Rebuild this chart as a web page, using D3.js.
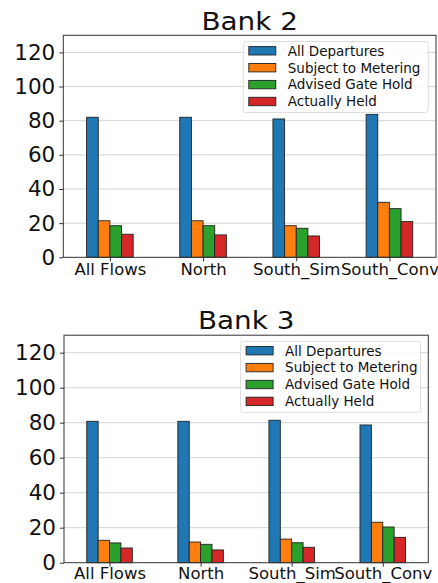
<!DOCTYPE html>
<html>
<head>
<meta charset="utf-8">
<script src="https://cdn.jsdelivr.net/npm/d3@7"></script>
<style>
  html, body { margin: 0; padding: 0; background: #fff; }
  svg { display: block; font-family: "DejaVu Sans", sans-serif; }
</style>
</head>
<body>
<svg id="chart" width="438" height="583"></svg>
<script>
const categories = ["All Flows", "North", "South_Sim", "South_Conv"];
const seriesNames = ["All Departures", "Subject to Metering", "Advised Gate Hold", "Actually Held"];
const seriesColors = ["#1f77b4", "#ff7f0e", "#2ca02c", "#d62728"];

const bank2AllDepartures     = [82.0, 82.0, 81.0, 83.7];
const bank2SubjectToMetering = [21.4, 21.4, 18.5, 32.2];
const bank2AdvisedGateHold   = [18.5, 18.5, 17.0, 28.5];
const bank2ActuallyHeld      = [13.5, 13.1, 12.5, 20.9];

const bank3AllDepartures     = [80.8, 80.8, 81.4, 78.7];
const bank3SubjectToMetering = [12.8, 11.8, 13.5, 23.1];
const bank3AdvisedGateHold   = [11.3, 10.5, 11.4, 20.4];
const bank3ActuallyHeld      = [8.4, 7.3, 8.8, 14.5];

const yTicks = [0, 20, 40, 60, 80, 100, 120];
const yMax = 130;

const svg = d3.select("#chart");

function drawChart(cfg) {
  const { title, series, left, right, top, bottom, titleY } = cfg;
  const g = svg.append("g");
  const x = d3.scaleLinear().domain([-0.5, categories.length - 0.5]).range([left, right]);
  const y = d3.scaleLinear().domain([0, yMax]).range([bottom, top]);
  const barW = 0.125;

  // grid
  g.append("g").selectAll("line").data(yTicks.filter(t => t > 0)).join("line")
    .attr("x1", left).attr("x2", right)
    .attr("y1", d => y(d)).attr("y2", d => y(d))
    .attr("stroke", "#d4d4d4").attr("stroke-width", 1);

  // bars
  series.forEach((vals, si) => {
    g.append("g").selectAll("rect").data(vals).join("rect")
      .attr("x", (d, i) => x(i + (si - 2) * barW))
      .attr("width", x(barW) - x(0))
      .attr("y", d => y(d))
      .attr("height", d => y(0) - y(d))
      .attr("fill", seriesColors[si])
      .attr("stroke", "#222").attr("stroke-width", 0.9);
  });

  // axes
  const yAxis = d3.axisLeft(y).tickValues(yTicks).tickSize(4).tickPadding(4);
  const ya = g.append("g").attr("transform", `translate(${left},0)`).call(yAxis);
  ya.select(".domain").remove();
  ya.selectAll("line").attr("stroke", "#333");
  ya.selectAll("text").attr("font-size", 21.5).attr("fill", "#111")
    .attr("font-family", "DejaVu Sans");

  const xAxis = d3.axisBottom(x).tickValues(d3.range(categories.length))
    .tickFormat(i => categories[i]).tickSize(4).tickPadding(cfg.xPad);
  const xa = g.append("g").attr("transform", `translate(0,${bottom})`).call(xAxis);
  xa.select(".domain").remove();
  xa.selectAll("line").attr("stroke", "#333");
  xa.selectAll("text").attr("font-size", 16.5).attr("fill", "#111")
    .attr("font-family", "DejaVu Sans");

  // frame
  g.append("rect").attr("x", left).attr("y", top)
    .attr("width", right - left).attr("height", bottom - top)
    .attr("fill", "none").attr("stroke", "#333").attr("stroke-width", 1);

  // title
  g.append("text").attr("transform", `translate(${(left + right) / 2},${titleY}) scale(1.16,1)`)
    .attr("text-anchor", "middle").attr("font-size", 24).attr("fill", "#111")
    .text(title);

  // legend
  const lg = g.append("g");
  const bx = right - 7.7 - cfg.legendW, by = top + 6.2;
  lg.append("rect").attr("x", bx).attr("y", by).attr("width", cfg.legendW).attr("height", 71)
    .attr("rx", 3).attr("fill", "#fff").attr("fill-opacity", 0.85)
    .attr("stroke", "#ddd").attr("stroke-width", 1);
  seriesNames.forEach((name, i) => {
    const cy = by + 9.3 + i * 16.9;
    lg.append("rect").attr("x", bx + 5.5).attr("y", cy - 4.2).attr("width", 27).attr("height", 8.4)
      .attr("fill", seriesColors[i]).attr("stroke", "#222").attr("stroke-width", 0.9);
    lg.append("text").attr("x", bx + 44.5).attr("y", cy + 4.8)
      .attr("font-size", 13.5).attr("fill", "#111").text(name);
  });
}

drawChart({
  title: "Bank 2",
  series: [bank2AllDepartures, bank2SubjectToMetering, bank2AdvisedGateHold, bank2ActuallyHeld],
  left: 63.3, right: 436, top: 35.3, bottom: 257.3, titleY: 30, legendW: 185, xPad: 2
});
drawChart({
  title: "Bank 3",
  series: [bank3AllDepartures, bank3SubjectToMetering, bank3AdvisedGateHold, bank3ActuallyHeld],
  left: 64, right: 428.3, top: 335.2, bottom: 562.7, titleY: 329.3, legendW: 180, xPad: 0.5
});
</script>
</body>
</html>
